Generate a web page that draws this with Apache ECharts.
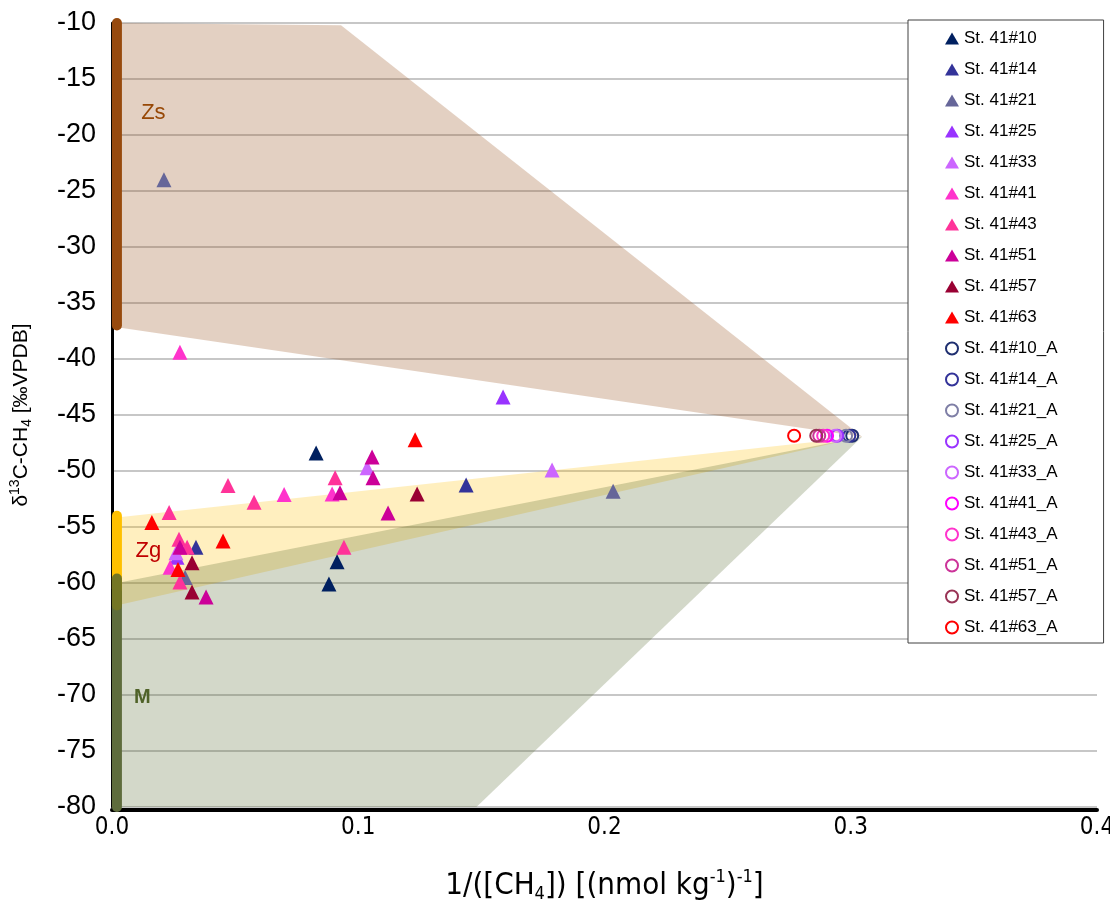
<!DOCTYPE html>
<html>
<head>
<meta charset="utf-8">
<script src="https://cdn.jsdelivr.net/npm/echarts@6/dist/echarts.min.js"></script>
<style>html,body{margin:0;padding:0;background:#fff}#c{width:1110px;height:913px}</style>
</head>
<body>
<div id="c"></div>
<script>
// ---- data ----
const xTicks = [0.0, 0.1, 0.2, 0.3, 0.4];
const yTicks = [-80, -75, -70, -65, -60, -55, -50, -45, -40, -35, -30, -25, -20, -15, -10];

const seriesNames = ['St. 41#10','St. 41#14','St. 41#21','St. 41#25','St. 41#33','St. 41#41','St. 41#43','St. 41#51','St. 41#57','St. 41#63',
  'St. 41#10_A','St. 41#14_A','St. 41#21_A','St. 41#25_A','St. 41#33_A','St. 41#41_A','St. 41#43_A','St. 41#51_A','St. 41#57_A','St. 41#63_A'];
const seriesColors = ['#002060','#333399','#666699','#9933FF','#CC66FF','#FF33CC','#FF3399','#CC0099','#990033','#FF0000',
  '#1F2F70','#333399','#7F7FA6','#9933FF','#CC66FF','#FF00FF','#FF33CC','#CC3399','#993355','#FF0000'];

const st41_10 = [[0.0829,-48.4],[0.0914,-58.1],[0.0881,-60.1]];
const st41_14 = [[0.1438,-51.25],[0.0341,-56.8]];
const st41_21 = [[0.0211,-24.0],[0.2035,-51.8],[0.0297,-59.5]];
const st41_25 = [[0.1588,-43.4],[0.0264,-57.7]];
const st41_33 = [[0.1036,-49.7],[0.1787,-49.9],[0.0260,-57.3]];
const st41_41 = [[0.0276,-39.4],[0.0894,-52.05],[0.0699,-52.1],[0.0236,-58.6]];
const st41_43 = [[0.0906,-50.6],[0.0942,-56.8],[0.0471,-51.3],[0.0577,-52.8],[0.0232,-53.7],[0.0272,-56.1],[0.0305,-56.8],[0.0276,-59.9]];
const st41_51 = [[0.1056,-48.75],[0.1060,-50.6],[0.0926,-51.95],[0.1121,-53.75],[0.0276,-56.8],[0.0382,-61.25]];
const st41_57 = [[0.1239,-52.05],[0.0325,-58.2],[0.0325,-60.8]];
const st41_63 = [[0.1231,-47.2],[0.0162,-54.6],[0.0451,-56.25],[0.0268,-58.8]];

const st41_10_A = [[0.3006,-46.85]];
const st41_14_A = [[0.2994,-46.85]];
const st41_21_A = [[0.2981,-46.85]];
const st41_25_A = [[0.2945,-46.85]];
const st41_33_A = [[0.2937,-46.85]];
const st41_41_A = [[0.2904,-46.85]];
const st41_43_A = [[0.2888,-46.85]];
const st41_51_A = [[0.2872,-46.85]];
const st41_57_A = [[0.2860,-46.85]];
const st41_63_A = [[0.2770,-46.85]];

const seriesData = [st41_10,st41_14,st41_21,st41_25,st41_33,st41_41,st41_43,st41_51,st41_57,st41_63,
  st41_10_A,st41_14_A,st41_21_A,st41_25_A,st41_33_A,st41_41_A,st41_43_A,st41_51_A,st41_57_A,st41_63_A];

// mixing zones (polygons in data coordinates)
const zoneZs = [[0.0,-10],[0.093,-10.2],[0.3046,-46.95],[0.0,-37.1]];
const zoneZg = [[0.0,-54.2],[0.3046,-46.95],[0.0,-62.1]];
const zoneM  = [[0.0,-60.1],[0.3046,-46.95],[0.148,-80],[0.0,-80]];

// end-member bars along the y axis
const barZs = [[0.002,-10],[0.002,-37.0]];
const barZg = [[0.002,-54.0],[0.002,-60.5]];
const barM  = [[0.002,-59.6],[0.002,-80]];
const barMg = [[0.002,-59.6],[0.002,-62]];

// zone labels
const zoneLabels = [
  {name:'Zs', value:[0.0168,-18.0], color:'#974806', bold:false, size:22},
  {name:'Zg', value:[0.0148,-57.1], color:'#C00000', bold:false, size:22},
  {name:'M',  value:[0.0123,-70.2], color:'#4F6228', bold:true, size:20}
];

// ---- chart ----
const chart = echarts.init(document.getElementById('c'));
const NARROW = '"DejaVu Sans Condensed", "Liberation Sans Narrow", "Arial Narrow", "Liberation Sans", sans-serif';
const SANS = '"Liberation Sans", Arial, sans-serif';

function polySeries(name, pts, fill) {
  return {
    type:'custom', name:name, silent:true, clip:true, z:1,
    data:[[0,0]],
    renderItem:function(params, api){
      return {type:'polygon', shape:{points: pts.map(p=>api.coord(p))}, style:{fill:fill}};
    }
  };
}
function barSeries(name, pts, color) {
  return {type:'line', name:name, data:pts, showSymbol:false, symbol:'none', silent:true, z:3,
    lineStyle:{color:color, width:10, cap:'round'}};
}

const series = [
  polySeries('zs', zoneZs, 'rgba(150,80,30,0.27)'),
  polySeries('zg', zoneZg, 'rgba(255,192,0,0.25)'),
  polySeries('m',  zoneM,  'rgba(79,98,40,0.25)'),
  barSeries('bzs', barZs, '#974A0E'),
  barSeries('bm', barM, '#5E6C3C'),
  barSeries('bzg', barZg, '#FFC000'),
  barSeries('bmg', barMg, '#747624'),
  {
    type:'scatter', name:'labels', silent:true, z:4, symbolSize:0,
    itemStyle:{opacity:1},
    data: zoneLabels.map(l=>({name:l.name, value:l.value,
      label:{show:true, position:'inside', formatter:l.name, color:l.color, fontSize:l.size, opacity:1,
        fontWeight: l.bold ? 'bold' : 'normal', fontFamily:SANS}}))
  }
];
seriesNames.forEach((n,i)=>{
  const isCircle = n.endsWith('_A');
  series.push({
    type:'scatter', name:n, data:seriesData[i], z:10,
    symbol: isCircle ? 'circle' : 'triangle',
    symbolSize: isCircle ? 12 : 15,
    itemStyle: isCircle ? {color:'rgba(255,255,255,0)', borderColor:seriesColors[i], borderWidth:2, opacity:1}
                        : {color:seriesColors[i], opacity:1}
  });
});

chart.setOption({
  animation:false,
  backgroundColor:'#fff',
  grid:{left:112, right:13, top:23, bottom:106, containLabel:false, outerBoundsMode:'none'},
  legend:{
    data: seriesNames.map((n,i)=>({name:n, icon: n.endsWith('_A') ? 'circle' : 'triangle',
      itemStyle: n.endsWith('_A') ? {color:'rgba(255,255,255,0)', borderColor:seriesColors[i], borderWidth:2, opacity:1} : {color:seriesColors[i], opacity:1}})),
    orient:'vertical', left:908, top:20,
    itemWidth:14, itemHeight:12, itemGap:14,
    padding:[10,46,7,37],
    borderColor:'#404040', borderWidth:1, backgroundColor:'#fff',
    textStyle:{fontSize:17, color:'#000', fontFamily:SANS},
    selectedMode:false
  },
  xAxis:{
    type:'value', min:0, max:0.4, interval:0.1, offset:3,
    axisLine:{show:true, onZero:false, lineStyle:{color:'#000', width:4}},
    axisTick:{show:false},
    splitLine:{show:false},
    axisLabel:{formatter:v=>v.toFixed(1), fontSize:24, color:'#000', margin:6, fontFamily:NARROW},
    name:'1/([CH{sub|4}]) [(nmol kg{sup|-1}){sup|-1}]',
    nameLocation:'middle', nameGap:58,
    nameTextStyle:{fontSize:31, color:'#000', fontFamily:NARROW,
      rich:{sub:{fontSize:18, padding:[17,0,0,0], fontFamily:NARROW},
            sup:{fontSize:18, padding:[0,0,17,0], fontFamily:NARROW}}}
  },
  yAxis:{
    type:'value', min:-80, max:-10, interval:5,
    axisLine:{show:true, onZero:false, lineStyle:{color:'#000', width:3}},
    axisTick:{show:false},
    splitLine:{show:true, lineStyle:{color:'#B4B4B4', width:1.5}},
    axisLabel:{fontSize:27, color:'#000', margin:16, fontFamily:SANS},
    name:'δ{sup|13}C-CH{sub|4} [‰VPDB]',
    nameLocation:'middle', nameGap:78, nameRotate:90,
    nameTextStyle:{fontSize:21, color:'#000', fontFamily:SANS,
      rich:{sub:{fontSize:14, padding:[12,0,0,0], fontFamily:SANS}, sup:{fontSize:14, padding:[0,0,12,0], fontFamily:SANS}}}
  },
  series:series
});
</script>
</body>
</html>
